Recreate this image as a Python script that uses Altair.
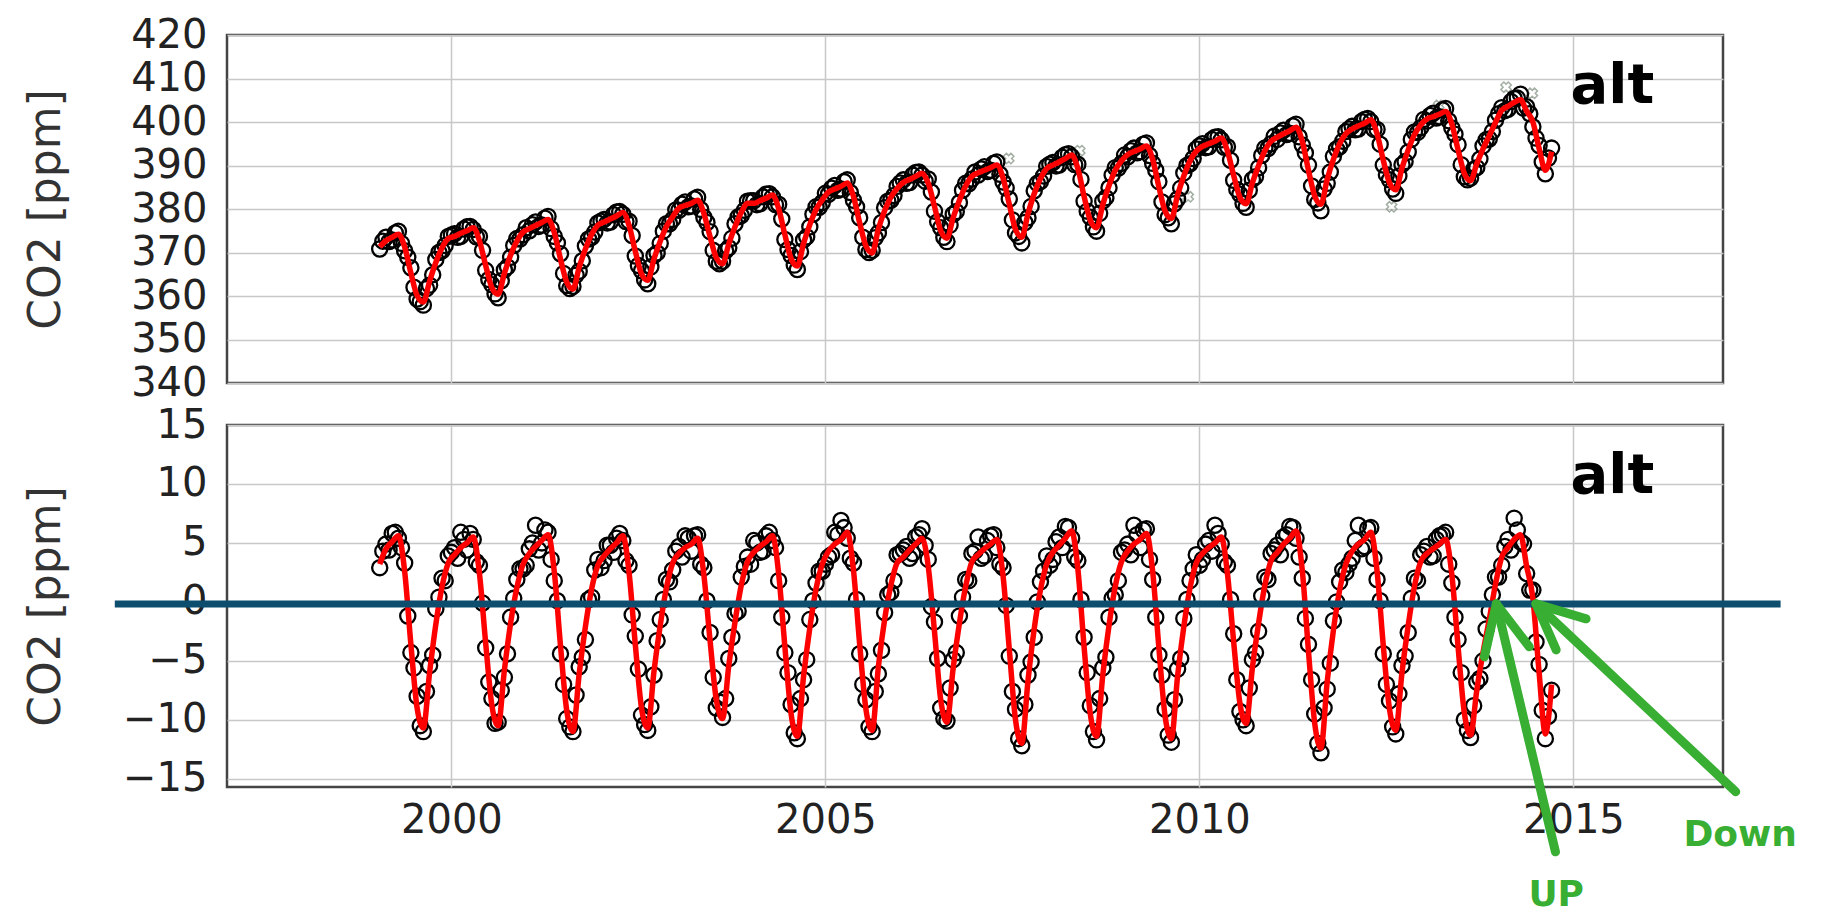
import pandas as pd
import altair as alt

# monthly values, Jan 1999 .. Sep 2014
years = list(range(1999, 2015))

co2_fit = [
    371.3, 372.7, 373.5, 374.2, 371.3, 365.3, 360.1, 358.6, 363.4, 367.7, 371.1, 373.2,
    373.7, 374.4, 375.0, 375.7, 372.7, 367.0, 361.9, 360.4, 365.2, 369.4, 372.6, 374.7,
    375.5, 376.2, 376.9, 377.6, 374.6, 368.5, 363.2, 361.6, 366.6, 370.8, 374.2, 376.3,
    377.0, 377.7, 378.4, 379.2, 376.2, 370.3, 365.1, 363.6, 368.5, 372.6, 376.0, 378.2,
    380.2, 380.8, 381.3, 382.0, 379.0, 373.6, 368.8, 367.4, 372.0, 375.9, 379.2, 381.3,
    381.3, 381.9, 382.5, 383.2, 380.1, 374.1, 368.6, 366.9, 372.1, 376.4, 379.9, 382.1,
    383.9, 384.6, 385.2, 386.0, 382.9, 376.8, 371.5, 369.9, 375.4, 379.6, 382.7, 384.7,
    386.1, 386.8, 387.5, 388.2, 385.9, 380.6, 375.0, 373.3, 378.0, 382.0, 385.3, 387.5,
    388.3, 388.9, 389.5, 390.1, 387.1, 381.1, 375.3, 373.5, 378.9, 383.5, 387.0, 389.3,
    390.1, 390.8, 391.6, 392.4, 389.3, 382.9, 377.4, 375.7, 381.0, 385.4, 388.9, 391.1,
    392.5, 393.2, 393.8, 394.5, 391.4, 385.1, 379.5, 377.8, 383.2, 387.6, 391.1, 393.3,
    394.4, 395.0, 395.6, 396.3, 393.3, 387.7, 382.7, 381.2, 386.0, 390.0, 393.4, 395.6,
    396.5, 397.3, 398.0, 398.8, 395.6, 388.9, 383.0, 381.1, 386.8, 391.4, 395.0, 397.3,
    398.4, 399.1, 399.7, 400.5, 397.3, 391.2, 386.0, 384.4, 389.4, 393.6, 397.1, 399.3,
    400.7, 401.2, 401.8, 402.4, 399.5, 393.6, 388.2, 386.5, 390.4, 393.8, 396.8, 399.9,
    402.7, 403.6, 404.5, 405.1, 402.5, 400.0, 393.9, 388.9, 393.2,
]

# flask samples near mid-month
co2_obs = [
    370.8, 373.5, 372.9, 374.9, 370.4, 366.5, 359.3, 357.9, 362.5, 368.4, 370.4, 373.7,
    374.3, 373.7, 375.9, 375.3, 373.7, 365.9, 362.6, 359.6, 366.0, 368.9, 373.2, 374.1,
    375.0, 377.0, 376.3, 378.3, 373.7, 369.7, 362.4, 362.2, 365.7, 371.5, 373.5, 376.8,
    377.6, 377.0, 379.3, 378.8, 377.2, 369.2, 365.8, 362.8, 369.3, 372.1, 376.6, 377.6,
    379.7, 381.6, 380.7, 382.7, 378.1, 374.8, 368.0, 368.0, 371.1, 376.6, 378.5, 381.8,
    381.9, 381.2, 383.4, 382.8, 381.1, 373.0, 369.3, 366.1, 372.9, 375.9, 380.5, 381.5,
    383.4, 385.4, 384.6, 386.7, 382.0, 378.0, 370.7, 370.5, 374.5, 380.3, 382.0, 385.2,
    386.7, 386.1, 388.4, 387.8, 386.9, 379.5, 375.7, 372.5, 378.8, 381.5, 385.9, 386.9,
    387.8, 389.7, 388.9, 390.8, 386.2, 382.3, 374.5, 372.2, 378.0, 384.2, 386.3, 389.8,
    390.7, 390.1, 392.5, 392.0, 390.3, 381.8, 378.1, 374.9, 381.8, 384.9, 389.5, 390.5,
    392.0, 394.0, 393.2, 395.2, 390.5, 386.3, 378.7, 376.6, 382.3, 388.3, 390.4, 393.8,
    395.0, 394.3, 396.5, 395.9, 394.3, 386.6, 383.4, 380.4, 386.8, 389.5, 394.0, 395.0,
    396.0, 398.1, 397.4, 399.5, 394.7, 390.1, 382.2, 379.6, 385.9, 392.1, 394.3, 397.8,
    399.0, 398.4, 400.6, 400.1, 398.3, 390.1, 386.7, 383.6, 390.2, 393.1, 397.7, 398.7,
    400.2, 402.0, 401.2, 403.1, 398.6, 394.8, 387.4, 387.1, 389.5, 394.5, 396.1, 400.4,
    403.3, 402.9, 405.4, 406.4, 403.5, 398.9, 394.6, 388.1, 394.0,
]

# flask samples near the end of each month
co2_obs_late = [
    372.6, 372.5, 374.5, 372.1, 368.9, 362.0, 358.7, 361.7, 364.9, 370.0, 371.6, 374.0,
    373.5, 375.4, 376.0, 373.6, 370.5, 363.8, 360.5, 363.5, 366.7, 371.6, 373.1, 375.7,
    376.4, 376.0, 377.9, 375.5, 372.2, 365.2, 361.7, 364.8, 368.1, 373.1, 374.7, 377.2,
    376.8, 378.7, 379.4, 377.1, 373.9, 367.0, 363.7, 366.7, 369.9, 374.9, 376.6, 379.8,
    381.1, 380.5, 382.3, 379.9, 376.9, 370.5, 367.4, 370.4, 373.3, 378.2, 379.7, 381.9,
    381.0, 382.8, 383.5, 381.0, 377.7, 370.7, 367.1, 370.2, 373.6, 378.8, 380.4, 383.6,
    384.8, 384.3, 386.3, 383.8, 380.5, 373.5, 370.0, 373.4, 376.9, 381.8, 383.1, 386.0,
    385.9, 387.8, 388.5, 386.4, 383.9, 377.1, 373.5, 376.3, 379.4, 384.3, 385.8, 388.5,
    389.2, 388.6, 390.5, 388.0, 384.8, 377.5, 373.7, 376.9, 380.6, 385.9, 387.6, 390.3,
    389.9, 391.9, 392.7, 390.2, 386.8, 379.5, 375.9, 379.0, 382.6, 387.8, 389.4, 392.4,
    393.4, 392.9, 394.9, 392.3, 388.9, 381.6, 378.0, 381.2, 384.8, 390.0, 391.6, 394.5,
    394.1, 396.0, 396.6, 394.2, 391.2, 384.5, 381.3, 384.3, 387.4, 392.3, 393.9, 396.7,
    397.5, 397.1, 399.1, 396.6, 392.9, 385.3, 381.4, 384.6, 388.5, 393.8, 395.6, 398.4,
    398.2, 400.1, 400.8, 398.3, 394.9, 387.9, 384.6, 387.6, 390.9, 396.0, 397.6, 400.6,
    401.5, 400.9, 402.8, 400.3, 397.2, 390.2, 386.7, 389.1, 391.5, 395.9, 397.8, 401.9,
    402.6, 404.7, 405.5, 403.2, 401.9, 396.3, 390.8, 391.7,
]

detr_fit = [
    3.2, 4.5, 5.1, 5.6, 2.6, -3.6, -9.0, -10.7, -6.0, -1.9, 1.3, 3.3,
    4.0, 4.6, 5.0, 5.5, 2.4, -3.5, -8.8, -10.5, -5.8, -1.8, 1.2, 3.2,
    4.1, 4.7, 5.2, 5.7, 2.6, -3.7, -9.2, -11.0, -6.1, -2.1, 1.1, 3.1,
    3.9, 4.5, 5.0, 5.6, 2.5, -3.6, -9.0, -10.7, -5.9, -2.0, 1.2, 3.3,
    4.1, 4.6, 4.9, 5.4, 2.3, -3.3, -8.3, -9.9, -5.4, -1.7, 1.4, 3.4,
    4.2, 4.7, 5.1, 5.6, 2.4, -3.8, -9.5, -11.4, -6.3, -2.2, 1.1, 3.2,
    4.3, 4.9, 5.3, 5.9, 2.7, -3.6, -9.1, -10.9, -5.5, -1.5, 1.4, 3.3,
    3.8, 4.4, 4.9, 5.4, 3.0, -2.5, -8.3, -10.2, -5.6, -1.8, 1.3, 3.4,
    4.0, 4.5, 4.9, 5.3, 2.2, -4.0, -10.0, -12.0, -6.7, -2.3, 1.0, 3.2,
    4.2, 4.8, 5.4, 6.0, 2.8, -3.8, -9.5, -11.4, -6.2, -2.0, 1.3, 3.4,
    4.3, 4.9, 5.3, 5.8, 2.6, -3.9, -9.7, -11.6, -6.3, -2.1, 1.2, 3.3,
    4.1, 4.6, 5.0, 5.5, 2.4, -3.4, -8.6, -10.3, -5.6, -1.8, 1.4, 3.5,
    4.2, 4.9, 5.4, 6.0, 2.7, -4.2, -10.3, -12.4, -6.8, -2.4, 1.0, 3.2,
    4.3, 4.9, 5.3, 5.9, 2.6, -3.7, -9.1, -10.9, -6.0, -2.0, 1.3, 3.4,
    4.1, 4.5, 4.9, 5.3, 2.3, -3.8, -9.4, -11.3, -7.5, -4.3, -1.5, 1.5,
    3.8, 4.6, 5.3, 5.7, 3.0, 0.3, -6.0, -11.2, -7.0,
]

detr_obs = [
    2.9, 4.9, 5.8, 5.4, 3.3, -4.3, -8.0, -11.0, -5.4, -0.6, 2.0, 3.9,
    4.6, 5.9, 4.4, 5.3, 3.1, -3.9, -8.2, -10.2, -6.4, -1.3, 1.9, 2.8,
    4.5, 6.5, 5.0, 5.9, 1.8, -4.4, -9.9, -11.0, -5.5, -3.2, 0.4, 3.6,
    3.5, 4.8, 5.4, 5.2, 3.1, -2.9, -9.6, -10.9, -6.2, -1.5, 1.9, 2.7,
    4.7, 5.6, 4.3, 5.7, 2.9, -2.6, -9.0, -9.8, -4.8, -1.0, 2.1, 3.8,
    5.2, 4.2, 5.6, 5.2, 1.8, -4.3, -8.7, -11.6, -6.6, -1.5, 1.6, 2.6,
    3.8, 5.9, 6.9, 5.4, 3.3, -4.4, -8.3, -11.0, -6.1, -0.9, 0.8, 4.0,
    4.4, 3.7, 5.5, 6.2, 3.6, -1.7, -9.0, -10.1, -4.9, -1.2, 1.9, 4.1,
    5.5, 3.9, 5.6, 4.6, 2.9, -4.6, -9.1, -12.2, -6.2, -3.0, 1.7, 3.9,
    3.6, 5.5, 6.4, 5.4, 3.5, -3.0, -8.8, -11.7, -5.6, -1.3, 0.6, 4.2,
    4.9, 6.5, 4.6, 6.2, 1.9, -4.5, -9.1, -11.9, -5.7, -1.4, 1.8, 4.0,
    3.6, 5.2, 6.5, 4.9, 3.1, -2.7, -9.3, -10.5, -4.9, -2.5, 2.1, 4.1,
    4.8, 5.5, 6.4, 5.4, 2.0, -3.6, -9.5, -12.8, -7.4, -1.6, 1.7, 2.5,
    3.7, 6.5, 4.7, 6.3, 1.9, -4.4, -8.4, -11.2, -5.4, -2.6, 2.0, 4.0,
    4.7, 3.9, 5.6, 5.9, 1.6, -3.2, -10.0, -11.5, -6.8, -5.0, -0.8, 2.1,
    3.1, 5.3, 7.1, 5.1, 2.4, 1.0, -5.3, -11.6, -7.5,
]

detr_obs_late = [
    4.3, 4.4, 5.9, 4.6, -1.2, -5.6, -10.5, -7.6, -4.5, 0.4, 1.8, 4.2,
    3.7, 5.3, 5.8, 3.4, -0.1, -6.8, -10.3, -7.5, -4.4, 0.3, 2.8, 3.1,
    5.0, 4.4, 6.1, 3.6, 0.1, -7.0, -10.6, -7.9, -4.7, 0.2, 2.7, 2.9,
    4.8, 4.2, 5.8, 3.5, -1.1, -5.7, -10.4, -8.9, -3.3, 0.2, 1.7, 4.3,
    3.8, 5.4, 5.6, 3.2, 0.1, -6.4, -8.5, -8.2, -3.0, -0.8, 3.0, 3.2,
    5.0, 4.3, 5.9, 4.6, -1.3, -6.0, -11.1, -8.2, -4.9, 0.1, 2.6, 3.2,
    4.0, 5.7, 6.3, 3.7, 0.2, -7.0, -10.6, -7.6, -4.1, 0.6, 1.8, 4.1,
    4.7, 4.1, 5.7, 4.8, -0.4, -4.8, -9.9, -7.3, -4.3, 0.4, 1.8, 4.3,
    3.7, 5.2, 5.7, 3.2, -0.3, -7.6, -11.6, -8.7, -5.1, 0.0, 2.6, 3.1,
    5.1, 4.6, 6.3, 3.8, 0.2, -6.0, -11.0, -8.2, -4.7, 0.3, 1.8, 4.4,
    4.0, 5.7, 6.1, 3.6, -1.3, -6.2, -11.3, -8.3, -4.8, 0.2, 2.8, 3.1,
    4.9, 4.3, 5.8, 3.4, 0.2, -6.6, -10.0, -7.3, -4.3, 0.5, 1.9, 4.4,
    4.0, 5.7, 6.3, 3.8, -1.4, -6.6, -12.0, -9.0, -5.2, 0.0, 2.7, 3.2,
    5.2, 4.5, 6.2, 3.7, 0.1, -7.0, -10.6, -7.8, -4.6, 0.3, 1.8, 4.3,
    3.8, 5.3, 5.7, 3.2, -1.3, -6.0, -10.9, -8.8, -6.5, -2.3, 0.6, 2.1,
    4.7, 4.4, 6.1, 4.9, 1.0, -3.4, -9.2, -9.7,
]

# faint grey crosses (flagged samples) in the upper panel
flag_t = [2007.45, 2008.4, 2009.85, 2011.3, 2012.57, 2013.2, 2014.1, 2014.45]
flag_v = [391.6, 393.4, 382.8, 397.2, 380.5, 403.8, 408.0, 406.6]

year_ticks = [2000, 2005, 2010, 2015]
top_ticks = [340, 350, 360, 370, 380, 390, 400, 410, 420]
bottom_ticks = [-15, -10, -5, 0, 5, 10, 15]

# time stamps in decimal years: mid-month and end of month
t_mid = [y + (m - 0.5) / 12 for y in years for m in range(1, 13)][:len(co2_fit)]
t_end = [y + m / 12 for y in years for m in range(1, 13)][:len(co2_obs_late)]

font = "DejaVu Sans"
green = "#38ae33"
xscale = alt.Scale(domain=[1997, 2017], nice=False, zero=False)


def panel(fit, obs, obs_late, ydomain, yticks, bottom, pad):
    xaxis = alt.Axis(values=year_ticks, format="d", title=None, labels=bottom,
                     labelPadding=13)
    yaxis = alt.Axis(values=yticks, title="CO2 [ppm]", titlePadding=pad)
    yscale = alt.Scale(domain=ydomain, nice=False, zero=False)

    pts = pd.DataFrame({"t": t_mid + t_end, "v": obs + obs_late})
    line_df = pd.DataFrame({"t": t_mid, "v": fit})

    circles = alt.Chart(pts).mark_point(
        shape="circle", filled=False, size=230, strokeWidth=2.3, color="black", opacity=1
    ).encode(
        x=alt.X("t:Q", scale=xscale, axis=xaxis),
        y=alt.Y("v:Q", scale=yscale, axis=yaxis),
    )
    line = alt.Chart(line_df).mark_line(
        color="#ff0000", strokeWidth=5.5, interpolate="monotone"
    ).encode(x="t:Q", y="v:Q")
    return circles, line


def site_label(v):
    return alt.Chart(pd.DataFrame({"t": [2014.96], "v": [v], "s": ["alt"]})).mark_text(
        align="left", baseline="alphabetic", font=font, fontSize=56,
        fontWeight="bold", color="black"
    ).encode(x="t:Q", y="v:Q", text="s:N")


top_c, top_l = panel(co2_fit, co2_obs, co2_obs_late, [340, 420], top_ticks, False, 62)
flags = alt.Chart(pd.DataFrame({"t": flag_t, "v": flag_v})).mark_point(
    shape="cross", angle=45, size=110, strokeWidth=1.5, color="#8c9a8c", opacity=0.8
).encode(x="t:Q", y="v:Q")
top = alt.layer(flags, top_c, top_l, site_label(404.4)).properties(width=1496, height=348)

bot_c, bot_l = panel(detr_fit, detr_obs, detr_obs_late, [-15.7, 15], bottom_ticks, True, 54)

# annotation: zero line and the two arrows
zero_df = pd.DataFrame({"t": [1995.5], "t2": [2017.77], "v": [-0.17]})
zero_line = alt.Chart(zero_df).mark_rule(color="#0d4e6f", strokeWidth=7).encode(
    x="t:Q", x2="t2:Q", y="v:Q"
)

arrow_df = pd.DataFrame({
    "t":  [2014.76, 2013.97, 2013.97, 2017.17, 2014.50, 2014.50],
    "v":  [-21.2, -0.17, -0.17, -16.1, -0.17, -0.17],
    "t2": [2013.97, 2013.81, 2014.41, 2014.50, 2014.77, 2015.17],
    "v2": [-0.17, -4.66, -3.81, -0.17, -4.07, -1.44],
})
arrows = alt.Chart(arrow_df).mark_rule(color=green, strokeWidth=9, strokeCap="round").encode(
    x="t:Q", y="v:Q", x2="t2:Q", y2="v2:Q"
)

note_df = pd.DataFrame({"t": [2014.77, 2017.23], "v": [-24.9, -19.75], "s": ["UP", "Down"]})
notes = alt.Chart(note_df).mark_text(
    align="center", baseline="middle", font=font, fontSize=36, fontWeight="bold", color=green
).encode(x="t:Q", y="v:Q", text="s:N")

bottom = alt.layer(bot_c, bot_l, site_label(9.2), zero_line, arrows, notes).properties(
    width=1496, height=362
)

chart = alt.vconcat(top, bottom, spacing=42, bounds="flush").configure_view(
    stroke="#444", strokeWidth=2.5
).configure_axis(
    labelFont=font, labelFontSize=40, labelColor="#222",
    titleFont=font, titleFontSize=44, titleFontWeight="normal", titleColor="#333",
    gridColor="#c8c8c8", gridWidth=1.5, ticks=False, domain=False, labelPadding=20
).properties(
    padding={"left": 15, "top": 5, "right": 5, "bottom": 0}, background="white"
)

chart.save("out.html", embed_options={"renderer": "svg", "actions": False})
